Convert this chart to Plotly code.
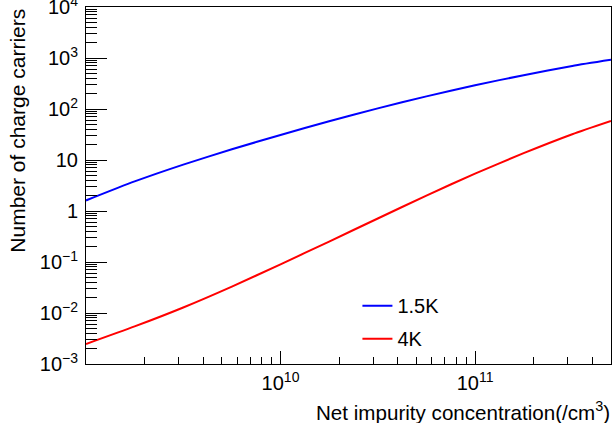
import numpy as np
import plotly.graph_objects as go

# Net impurity concentration (/cm^3)
conc = [1.0e9, 1.778e9, 3.162e9, 5.623e9, 1.0e10, 1.778e10, 3.162e10,
        5.623e10, 1.0e11, 1.778e11, 3.162e11, 5.0e11]
# Number of charge carriers
carriers_1p5K = [1.61, 3.80, 8.13, 16.2, 31.0, 57.5, 102.8, 177, 292, 461, 698, 920]
carriers_4K = [2.47e-3, 5.46e-3, 0.01285, 0.0330, 0.0899, 0.252, 0.713,
               2.01, 5.41, 13.6, 32.0, 58.2]

series_names = ["1.5K", "4K"]

x_major_vals = [1e10, 1e11]
x_major_text = ["10<sup>10</sup>", "10<sup>11</sup>"]
y_major_vals = [1e-3, 1e-2, 1e-1, 1, 10, 1e2, 1e3, 1e4]
y_major_text = ["10<sup>\u22123</sup>", "10<sup>\u22122</sup>", "10<sup>\u22121</sup>",
                "1", "10", "10<sup>2</sup>", "10<sup>3</sup>", "10<sup>4</sup>"]

x_minor = [m * 10.0 ** e for e in range(9, 12) for m in range(2, 10) if m * 10.0 ** e <= 5e11]
y_minor = [m * 10.0 ** e for e in range(-3, 4) for m in range(2, 10)]

FONT = "Liberation Sans, Arial, Helvetica, sans-serif"

fig = go.Figure()
fig.add_trace(go.Scatter(x=conc, y=carriers_1p5K, mode="lines", name=series_names[0],
                         line=dict(color="#0000ff", width=2, shape="spline", smoothing=0.6),
                         legendgroup="a"))
fig.add_trace(go.Scatter(x=conc, y=carriers_4K, mode="lines", name=series_names[1],
                         line=dict(color="#ff0000", width=2, shape="spline", smoothing=0.6),
                         legendgroup="b"))

fig.update_layout(
    width=614, height=423,
    margin=dict(l=86, r=3, t=7, b=59, autoexpand=False),
    paper_bgcolor="white", plot_bgcolor="white",
    font=dict(family=FONT, size=20, color="black"),
    showlegend=True,
    legend=dict(x=0.517, y=0.218, xanchor="left", yanchor="top",
                bgcolor="rgba(0,0,0,0)", borderwidth=0,
                font=dict(size=20), tracegroupgap=4),
    xaxis=dict(type="log", range=[9, np.log10(5e11)], automargin=False,
               showgrid=False, zeroline=False,
               showline=True, linecolor="black", linewidth=1, mirror=True,
               ticks="inside", ticklen=13, tickcolor="black", tickwidth=1,
               tickmode="array", tickvals=x_major_vals, ticktext=x_major_text,
               tickfont=dict(size=20), ticklabelstandoff=1,
               minor=dict(ticks="inside", ticklen=7, tickcolor="black",
                          tickmode="array", tickvals=x_minor, showgrid=False)),
    yaxis=dict(type="log", range=[-3.00001, 4.00001], automargin=False,
               showgrid=False, zeroline=False,
               showline=True, linecolor="black", linewidth=1, mirror=True,
               ticks="inside", ticklen=21, tickcolor="black", tickwidth=1,
               tickmode="array", tickvals=y_major_vals, ticktext=y_major_text,
               tickfont=dict(size=20), ticklabelstandoff=3,
               ticklabeloverflow="allow",
               minor=dict(ticks="inside", ticklen=11, tickcolor="black",
                          tickmode="array", tickvals=y_minor, showgrid=False)),
    annotations=[
        dict(text="Net impurity concentration(/cm<sup>3</sup>)", xref="paper", yref="paper",
             x=1.002, y=-0.09, xanchor="right", yanchor="top", showarrow=False,
             font=dict(size=20.6)),
        dict(text="Number of charge carriers", xref="paper", yref="paper",
             x=-0.132, y=1.0, xanchor="center", yanchor="top", textangle=-90,
             showarrow=False, font=dict(size=21)),
    ],
)

fig.write_html("out.html", config={"responsive": False, "displayModeBar": False},
               post_script="document.body.style.margin='0';document.body.style.overflow='hidden';")
